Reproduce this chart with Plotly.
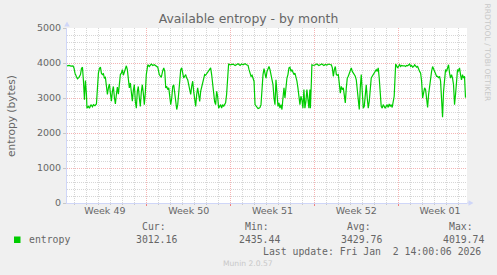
import pandas as pd
import plotly.graph_objects as go

# ---- data ----
start = pd.Timestamp("2025-11-30 00:00")
view_hours = [8, 810]  # visible window, hours since start

hours = [
    8, 12, 16, 20, 22, 24, 27, 29, 32, 35, 37, 39, 41, 43, 44, 45, 47, 48, 51, 53, 56, 59, 61, 64, 67, 69,
    71, 73, 75, 77, 79, 81, 83, 85, 87, 89, 91, 93, 95, 97, 99, 101, 103, 105, 107, 109, 111, 113, 115,
    117, 119, 121, 123, 125, 127, 129, 131, 133, 135, 137, 139, 141, 143, 145, 147, 149, 151, 153, 155,
    157, 159, 161, 163, 165, 167,
    170, 173, 177, 180, 183, 187, 190, 193, 197, 200, 202, 204, 206, 208, 210, 212, 214, 216, 218, 220,
    222, 224, 226, 228, 230, 232, 234, 236, 238, 240, 242, 244, 246, 248, 250, 252, 254, 256, 258, 260,
    262, 264, 266, 268, 270, 272, 274, 276, 278, 280, 282, 284, 286, 288, 290, 292, 294, 296, 298, 300,
    302, 304, 306, 308, 310, 312, 314, 316, 318, 320, 322, 324, 326, 328, 330, 332, 335,
    338, 341, 345, 348, 351, 355, 358, 361, 365, 368, 371, 373, 375, 377, 379, 381, 383, 385, 387, 389,
    391, 393, 395, 397, 399, 401, 403, 405, 407, 409, 411, 413, 415, 417, 419, 421, 423, 425, 427, 429,
    431, 433, 435, 437, 439, 441, 443, 445, 447, 449, 451, 453, 455, 457, 459, 461, 463, 465, 467, 469,
    471, 473, 475, 477, 479, 481, 483, 485, 487, 489, 491, 493, 495, 496, 498, 499, 503,
    506, 509, 513, 516, 519, 523, 526, 529, 533, 536, 538, 540, 542, 544, 546, 548, 550, 552, 554, 556,
    558, 560, 562, 564, 566, 568, 570, 572, 574, 576, 578, 580, 582, 584, 586, 588, 590, 592, 594, 596,
    598, 600, 602, 604, 606, 608, 610, 612, 614, 616, 618, 620, 622, 624, 626, 628, 630, 632, 634, 636,
    638, 640, 642, 644, 646, 648, 650, 652, 654, 656, 658, 660, 662, 664, 666, 667,
    671, 673, 675, 677, 679, 681, 683, 685, 687, 689, 691, 693, 695, 697, 699, 701, 703, 705, 707, 709,
    711, 713, 715, 717, 719, 721, 723, 725, 727, 729, 731, 733, 735, 737, 739, 741, 743, 745, 747, 749,
    751, 753, 755, 757, 759, 761, 763, 765, 767, 769, 771, 773, 775, 777, 779, 781, 783, 785, 787, 789,
    791, 793, 795, 797, 799, 801, 803, 805, 807,
]

entropy = [
    3920, 3930, 3910, 3920, 3860, 3710, 3610, 3550, 3590, 3670, 3840, 3880, 3480, 2950, 3290, 3500, 3100,
    2710, 2760, 2710, 2810, 2750, 2810, 2780, 2830, 3480,
    3710, 3840, 3880, 3710, 3670, 3690, 3570, 3590, 3380, 3100, 3290, 3400, 3140, 2910, 3190, 3330, 3020,
    2830, 3100, 3310, 3110, 3480, 3670,
    3710, 3810, 3650, 3760, 3810, 3920, 3810, 3590, 3290, 3430, 3190, 2910, 3210, 3380, 2910, 2710, 3190,
    3330, 3000, 2760,
    3170, 3380, 3140, 2810, 3140, 3670,
    3950, 3900, 3970, 3930, 3950, 3900, 3880, 3670, 3590, 3780, 3860, 3760, 3290, 3330, 3240, 3290, 3100,
    2810, 3000, 3330,
    3380, 3190, 2900, 2670, 2810, 3100, 3520, 3810, 3860, 3710, 3570, 3620, 3670, 3570, 3520, 3380, 3190,
    3100, 3330, 3480,
    3190, 3000, 2760, 3100, 3290, 3100, 2900, 3190, 3330, 3480, 3620, 3670, 3650, 3690, 3710, 3760, 3810,
    3860, 3670, 3380,
    3190, 2900, 2810, 3190, 3050, 2710, 2760, 2810, 2710, 2810, 2760, 2810, 2860, 3100, 3670, 3970, 3950,
    3950, 3970, 3930, 3950, 3980, 3930, 3970, 3950, 3980, 3950, 3930, 3810, 3670, 3620, 3650, 3590, 3480,
    2810, 2760, 2710,
    2700, 2710, 2730, 2810, 3290, 3670, 3840, 3710, 3570, 3760, 3860, 3900, 3810, 3670, 3570, 3380, 3000,
    2810, 3520, 3000,
    2760, 2860, 2710, 2810, 2670, 3000, 3290, 3000, 3380, 3570, 3670, 3860, 3880, 3760, 3810, 3710, 3670,
    3710, 3620, 3480,
    3290, 3000, 2810, 3050, 2950, 2710, 3240, 2710, 2900, 3240, 2900, 2710, 3240, 2710, 3480, 3950, 3930,
    3950, 3970, 3930, 3950, 3970, 3930, 3960, 3940, 3970, 3950, 3950, 3860, 3620, 3810, 3900, 3670, 3650,
    3670, 3290, 3140,
    3330, 3240, 3290, 3000, 2860, 3290, 3570, 3620, 3710, 3760, 3860, 3760, 3710, 3670, 3620, 3520, 3290,
    2900, 2670, 3290,
    3670, 3190, 2710, 2760, 3100, 3380, 3000, 2710, 2900, 3290, 3570, 3620, 3670, 3710, 3760, 3810, 3760,
    3860, 3570, 3190,
    2760, 2710, 2810, 2760, 2710, 2760, 2810, 2730, 2830, 2760, 2810, 2730, 2860, 3050, 3670, 3970,
    3860, 3900, 3950, 3900, 3930, 3920, 3930, 3920, 3900, 3930, 3920, 3950, 3970, 3900, 3930, 3880, 3900,
    3950, 3920, 3880,
    3900, 3810, 3760, 3710, 3480, 3000, 3190, 3290, 3240, 2900, 2730, 3100, 3380, 3480, 3760, 3900, 3810,
    3710, 3690, 3620,
    3620, 3570, 3620, 3480, 3000, 2450, 3190, 3670, 3810, 3760, 3860, 3950, 3710, 3570, 3670, 3570, 3380,
    2810, 3100, 3670,
    3810, 3760, 3860, 3670, 3520, 3670, 3570, 3620, 3010,
]

week_starts = ["2025-11-30", "2025-12-07", "2025-12-14", "2025-12-21", "2025-12-28"]
week_labels = ["Week 49", "Week 50", "Week 51", "Week 52", "Week 01"]

y_ticks = [0, 1000, 2000, 3000, 4000, 5000]

series_name = "entropy"
stats_names = ["Cur:", "Min:", "Avg:", "Max:"]
stats_values = ["3012.16", "2435.44", "3429.76", "4019.74"]
last_update = "Last update: Fri Jan\u00a0 2 14:00:06 2026"

# ---- derived ----
times = [start + pd.Timedelta(hours=h) for h in hours]
x_range = [start + pd.Timedelta(hours=h) for h in view_hours]
label_pos = [pd.Timestamp(w) + pd.Timedelta(hours=84) for w in week_starts]

W, H = 497, 275
L, R, T, B = 67, 30, 28, 72
PW, PH = W - L - R, H - T - B


def px(x):
    return (x - L) / PW


def py(y):
    return (H - B - y) / PH


FONT = "#666666"
AXIS = "#CFD6F8"
GRID = "#d6d6d6"
MGRID = "#f5b4b4"
DASH = "1px,1px"

fig = go.Figure()
fig.add_trace(go.Scatter(
    x=times, y=entropy, mode="lines",
    line=dict(color="#00cc00", width=1.2),
    showlegend=False, hoverinfo="skip",
))
fig.add_trace(go.Scatter(
    x=times[:1], y=[None], xaxis="x2", mode="lines",
    showlegend=False, hoverinfo="skip",
))

fig.update_layout(
    width=W, height=H,
    margin=dict(l=L, r=R, t=T, b=B),
    paper_bgcolor="#F0F0F0", plot_bgcolor="#FFFFFF",
    font=dict(family="DejaVu Sans", color=FONT, size=9.5),
    title=dict(
        text="Available entropy - by month",
        x=0.5, xref="container", xanchor="center",
        y=1 - 19 / H, yref="container", yanchor="middle",
        font=dict(family="DejaVu Sans", size=12.4, color=FONT),
    ),
    xaxis=dict(
        type="date", range=x_range,
        tickvals=week_starts, showticklabels=False,
        showgrid=True, gridcolor=MGRID, griddash=DASH, gridwidth=1,
        ticks="outside", ticklen=2, tickcolor="#f08080",
        showline=True, linecolor=AXIS, linewidth=1,
        zeroline=False,
        minor=dict(dtick=86400000, tick0="2025-11-30", showgrid=True,
                   gridcolor=GRID, griddash=DASH, gridwidth=1,
                   ticks="outside", ticklen=1, tickcolor="#c8c8c8"),
    ),
    xaxis2=dict(
        type="date", range=x_range, overlaying="x", anchor="y", side="bottom",
        tickvals=label_pos, ticktext=week_labels,
        showgrid=False, ticks="", showline=False, zeroline=False,
        tickfont=dict(size=9.5, color=FONT, family="DejaVu Sans"),
    ),
    yaxis=dict(
        range=[0, 5000], tickvals=y_ticks,
        showgrid=True, gridcolor=MGRID, griddash=DASH, gridwidth=1,
        ticks="outside", ticklen=3, tickcolor="#c8c8c8",
        showline=True, linecolor=AXIS, linewidth=1,
        zeroline=False,
        tickfont=dict(size=9.5, color=FONT, family="DejaVu Sans"),
        minor=dict(dtick=200, showgrid=True, gridcolor=GRID, griddash=DASH, gridwidth=1),
    ),
)

# axis arrows
fig.add_shape(type="path", xref="paper", yref="paper",
              path=f"M {px(64.2)} {py(26.5)} L {px(67)} {py(21.5)} L {px(69.8)} {py(26.5)} Z",
              fillcolor=AXIS, line=dict(width=0))
fig.add_shape(type="path", xref="paper", yref="paper",
              path=f"M {px(468.5)} {py(200.2)} L {px(473.5)} {py(203)} L {px(468.5)} {py(205.8)} Z",
              fillcolor=AXIS, line=dict(width=0))
fig.add_shape(type="line", xref="paper", yref="paper",
              x0=px(467), x1=px(469), y0=py(203), y1=py(203), line=dict(color=AXIS, width=1))

# legend square
fig.add_shape(type="rect", xref="paper", yref="paper",
              x0=px(14), x1=px(20.5), y0=py(243), y1=py(236.5),
              fillcolor="#00cc00", line=dict(width=0))

MONO = "DejaVu Sans Mono"
ann = []
ann.append(dict(text="entropy (bytes)", x=px(11), y=py(116), textangle=-90,
                font=dict(family="DejaVu Sans", size=10.6, color=FONT)))
ann.append(dict(text="RRDTOOL / TOBI OETIKER", x=px(487.5), y=py(53), textangle=90,
                font=dict(family="DejaVu Sans", size=7.6, color="#c8c8c8")))
ann.append(dict(text=series_name, x=px(27), y=py(239.5), xanchor="left",
                font=dict(family=MONO, size=9.8, color=FONT)))
head_left = [140, 242.7, 345, 446.7]
val_left = [134, 237.3, 339, 440.7]
for i in range(4):
    ann.append(dict(text=stats_names[i], x=px(head_left[i]), y=py(226.5), xanchor="left",
                    font=dict(family=MONO, size=9.8, color=FONT)))
    ann.append(dict(text=stats_values[i], x=px(val_left[i]), y=py(239.5), xanchor="left",
                    font=dict(family=MONO, size=9.8, color=FONT)))
ann.append(dict(text=last_update, x=px(482.7), y=py(251.5), xanchor="right",
                font=dict(family=MONO, size=9.8, color=FONT)))
ann.append(dict(text="Munin 2.0.57", x=px(248), y=py(263.5), xanchor="center",
                font=dict(family="DejaVu Sans", size=7.6, color="#c8c8c8")))
for a in ann:
    a.setdefault("xanchor", "center")
    a.update(xref="paper", yref="paper", yanchor="middle", showarrow=False)
    fig.add_annotation(**a)

fig.write_html("out.html")
